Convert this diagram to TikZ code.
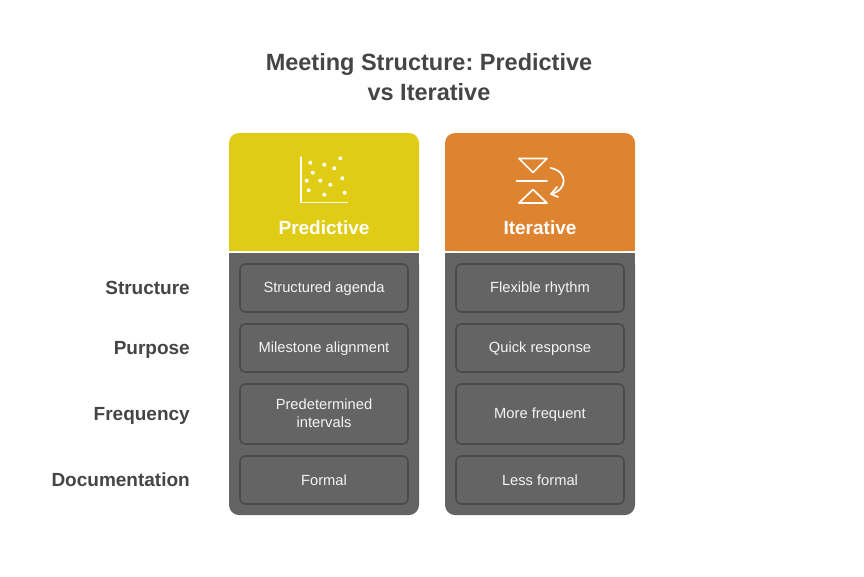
\documentclass[tikz,border=0pt]{standalone}
\usepackage{fontspec}
\setmainfont{Liberation Sans}
\definecolor{ink}{HTML}{454545}
\definecolor{panel}{HTML}{646464}
\definecolor{cellline}{HTML}{4A4A4A}
\definecolor{yel}{HTML}{E0CC14}
\definecolor{org}{HTML}{DE8430}
\definecolor{soft}{HTML}{F4F4F4}
\newcommand{\cstrut}{\rule[-1.5pt]{0pt}{13pt}}
\tikzset{
 title/.style={font=\fontsize{23.5}{30}\selectfont\bfseries,text=ink,align=center,inner sep=0pt},
 rowlabel/.style={font=\fontsize{19}{22}\selectfont\bfseries,text=ink,anchor=base east,inner sep=0pt},
 headtext/.style={font=\fontsize{19}{22}\selectfont\bfseries,text=white,inner sep=0pt,anchor=base},
 cell/.style={draw=cellline,line width=1.6pt,rounded corners=5pt,minimum width=168pt,text=soft,align=center,inner sep=0pt,font=\fontsize{14.7}{18}\selectfont},
 icon/.style={draw=white,line width=1.7pt,line cap=round,line join=round},
 dot/.style={fill=white,draw=none},
}
\begin{document}
\frenchspacing
\begin{tikzpicture}[x=1pt,y=-1pt]
\useasboundingbox[fill=white] (0,0) rectangle (864,576);
\node[title] (ttl) at (429,77) {Meeting Structure: Predictive\\vs Iterative};
% headers
\fill[yel,rounded corners=10pt] (229,251) -- (229,133) -- (419,133) -- (419,251) -- cycle;
\fill[org,rounded corners=10pt] (445,251) -- (445,133) -- (635,133) -- (635,251) -- cycle;
\fill[yel] (229,240) rectangle (419,251);
\fill[org] (445,240) rectangle (635,251);
% panels
\fill[panel,rounded corners=10pt] (229,253) -- (419,253) -- (419,515) -- (229,515) -- cycle;
\fill[panel,rounded corners=10pt] (445,253) -- (635,253) -- (635,515) -- (445,515) -- cycle;
\fill[panel] (229,253) rectangle (419,265);
\fill[panel] (445,253) rectangle (635,265);
\node[headtext] (hp) at (324,234.3) {Predictive};
\node[headtext] (hi) at (540,234.3) {Iterative};
% left icon
\draw[icon] (301,157) -- (301,202.5) -- (347,202.5);
\foreach \x/\y in {310.3/162.7,340.3/158.3,324.3/164.7,334.3/168.3,312.7/172.7,306.7/180.7,320.3/180.7,342.3/178.3,330.3/184.7,308.7/190.3,344.7/192.7,324.3/194.7}
  \fill[dot] (\x,\y) circle (2pt);
% right icon
\draw[icon] (519,158.5) -- (547,158.5) -- (533,172.5) -- cycle;
\draw[icon] (519,203) -- (547,203) -- (533,189.5) -- cycle;
\draw[icon] (516.5,181) -- (547,181);
\draw[icon] (550.5,168) .. controls (568,171) and (568,190) .. (551,194);
\draw[icon] (557,187) -- (551,194) -- (558,197);
% rows
\foreach \n/\cx/\cy/\h/\t in {
 a1/324/288/48/\cstrut Structured agenda,
 a2/324/348/48/\cstrut Milestone alignment,
 a3/324/414/60/{Predetermined\\intervals\rule[-2pt]{0pt}{2pt}},
 a4/324/480/48/\cstrut Formal,
 b1/540/288/48/\cstrut Flexible rhythm,
 b2/540/348/48/\cstrut Quick response,
 b3/540/414/60/\cstrut More frequent,
 b4/540/480/48/\cstrut Less formal}
  \node[cell,minimum height=\h pt] (\n) at (\cx,\cy) {\t};
\node[rowlabel] (l1) at (190,294) {Structure};
\node[rowlabel] (l2) at (190,354) {Purpose};
\node[rowlabel] (l3) at (190,420) {Frequency};
\node[rowlabel] (l4) at (190,486) {Documentation};
\end{tikzpicture}
\end{document}
